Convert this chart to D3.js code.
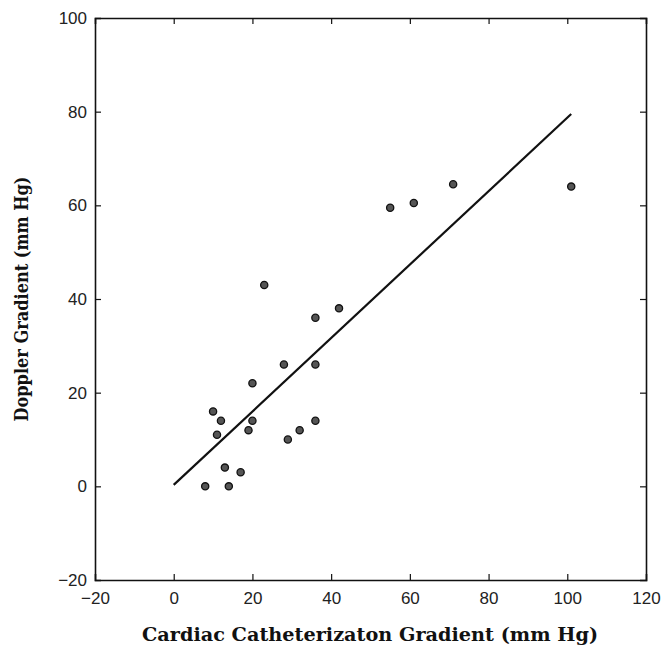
<!DOCTYPE html>
<html>
<head>
<meta charset="utf-8">
<script src="https://cdn.jsdelivr.net/npm/d3@7"></script>
<style>
  body { margin: 0; background: #fff; }
  .tick text { font-family: "Liberation Sans", Arial, sans-serif; font-size: 17px; fill: #222; }
  .title { font-family: "DejaVu Serif", serif; font-weight: bold; font-size: 18px; fill: #111; }
</style>
</head>
<body>
<div id="chart"></div>
<script>
// catheterization gradient (x) vs doppler gradient (y), mm Hg
const cathGrad = [8, 14, 13, 17, 10, 12, 11, 19, 20, 20, 23, 28, 29, 32, 36, 36, 36, 42, 55, 61, 71, 101]
const dopplerGrad = [0, 0, 4, 3, 16, 14, 11, 12, 14, 22, 43, 26, 10, 12, 14, 26, 36, 38, 59.5, 60.5, 64.5, 64]
const fitX = [0, 101]
const fitY = [0.3, 79.5]
const xTicks = [-20, 0, 20, 40, 60, 80, 100, 120]
const yTicks = [-20, 0, 20, 40, 60, 80, 100]

const width = 671, height = 648
const margin = { top: 18, right: 25, bottom: 68, left: 95 }

const svg = d3.select('#chart').append('svg')
  .attr('width', width)
  .attr('height', height)

const x = d3.scaleLinear().domain([-20, 120]).range([margin.left, width - margin.right])
const y = d3.scaleLinear().domain([-20, 100]).range([height - margin.bottom, margin.top])

const fmt = d => d < 0 ? '\u2212' + Math.abs(d) : d

// bottom axis with labels, ticks pointing in
svg.append('g')
  .attr('transform', `translate(0,${y(-20)})`)
  .call(d3.axisBottom(x).tickValues(xTicks).tickSize(-6).tickPadding(12).tickFormat(fmt))
  .call(g => g.selectAll('.tick').filter(d => d === -20 || d === 120).select('line').remove())

// top axis, no labels
svg.append('g')
  .attr('transform', `translate(0,${y(100)})`)
  .call(d3.axisTop(x).tickValues(xTicks).tickSize(-6).tickFormat(''))
  .call(g => g.selectAll('.tick').filter(d => d === -20 || d === 120).select('line').remove())

// left axis with labels
svg.append('g')
  .attr('transform', `translate(${x(-20)},0)`)
  .call(d3.axisLeft(y).tickValues(yTicks).tickSize(-6).tickPadding(8).tickFormat(fmt))
  .call(g => g.selectAll('.tick').filter(d => d === -20 || d === 100).select('line').remove())

// right axis, no labels
svg.append('g')
  .attr('transform', `translate(${x(120)},0)`)
  .call(d3.axisRight(y).tickValues(yTicks).tickSize(-6).tickFormat(''))
  .call(g => g.selectAll('.tick').filter(d => d === -20 || d === 100).select('line').remove())

svg.selectAll('.domain').attr('stroke', '#111').attr('stroke-width', 1.6)
svg.selectAll('.tick line').attr('stroke', '#111').attr('stroke-width', 1.2)

// regression line
const line = d3.line()
  .x(d => x(d[0]))
  .y(d => y(d[1]))

svg.append('path')
  .datum(d3.zip(fitX, fitY))
  .attr('d', line)
  .attr('fill', 'none')
  .attr('stroke', '#111')
  .attr('stroke-width', 2.2)

// points
svg.append('g')
  .selectAll('circle')
  .data(d3.zip(cathGrad, dopplerGrad))
  .join('circle')
  .attr('cx', d => x(d[0]))
  .attr('cy', d => y(d[1]))
  .attr('r', 3.6)
  .attr('fill', '#555')
  .attr('stroke', '#111')
  .attr('stroke-width', 1.3)

// axis titles
svg.append('text')
  .attr('class', 'title')
  .attr('x', 370)
  .attr('y', 641)
  .attr('text-anchor', 'middle')
  .attr('textLength', 456)
  .attr('lengthAdjust', 'spacingAndGlyphs')
  .text('Cardiac Catheterizaton Gradient (mm Hg)')

svg.append('text')
  .attr('class', 'title')
  .attr('transform', 'translate(28,299) rotate(-90)')
  .attr('text-anchor', 'middle')
  .attr('textLength', 245)
  .attr('lengthAdjust', 'spacingAndGlyphs')
  .text('Doppler Gradient (mm Hg)')
</script>
</body>
</html>
